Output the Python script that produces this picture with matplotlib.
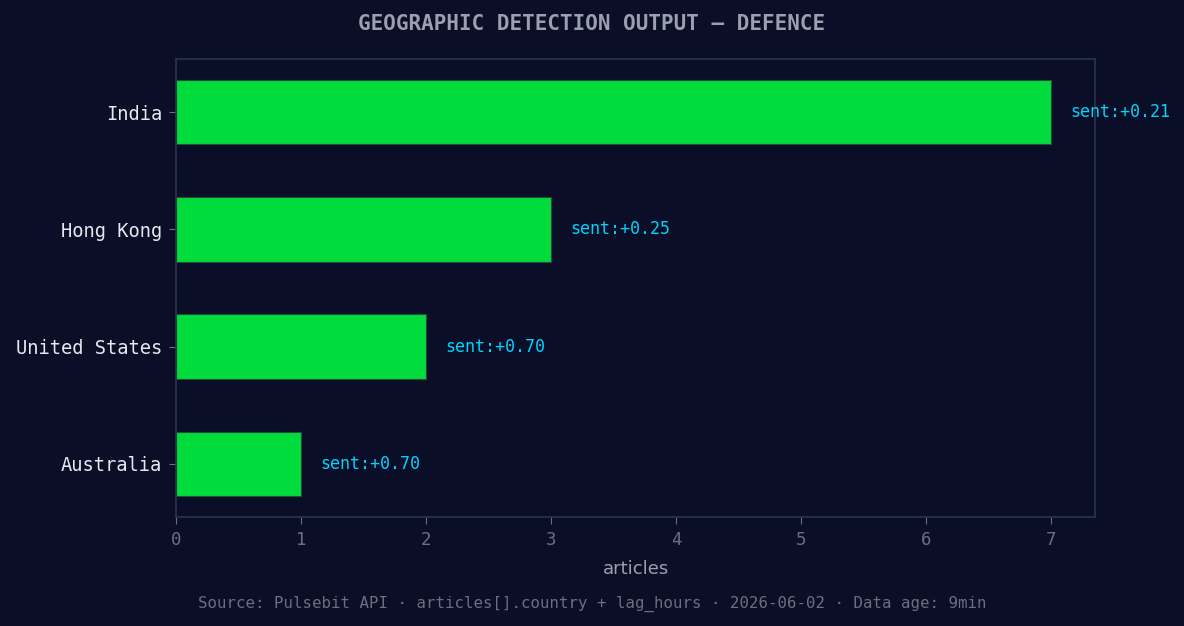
import matplotlib
matplotlib.use("Agg")
import matplotlib.pyplot as plt

countries = ["India", "Hong Kong", "United States", "Australia"]
articles = [7, 3, 2, 1]
sentiment = [0.21, 0.25, 0.70, 0.70]

BG = "#0a0e27"
BAR = "#00dc3c"
SPINE = "#2c3150"
TITLE = "#9aa0b0"
CYAN = "#00d4ff"
MONO = "DejaVu Sans Mono"

fig, ax = plt.subplots(figsize=(11.84, 6.26), dpi=100)
fig.patch.set_facecolor(BG)
ax.set_facecolor(BG)

ypos = list(range(len(countries)))[::-1]
ax.barh(ypos, articles, height=0.55, color=BAR, edgecolor="#2a4a3a", linewidth=0.8, zorder=2)

for y, a, s in zip(ypos, articles, sentiment):
    ax.text(a + 0.15, y, f"sent:{s:+.2f}", va="center", ha="left",
            color=CYAN, fontsize=12, family=MONO)

ax.set_yticks(ypos)
ax.set_yticklabels(countries, family=MONO, fontsize=13.5, color="#e6e8ee")
ax.set_xlim(0, 7.35)
ax.set_xticks(range(8))
for lbl in ax.get_xticklabels():
    lbl.set_family(MONO)
ax.tick_params(axis="x", colors="#6b7080", labelsize=12.5, length=5, pad=5)
ax.tick_params(axis="y", colors="#6b7080", length=5, pad=5)
ax.tick_params(axis="y", labelcolor="#e6e8ee")

for sp in ax.spines.values():
    sp.set_color(SPINE)
    sp.set_linewidth(1.2)

ax.set_xlabel("articles", color="#9aa0b0", fontsize=13, labelpad=8)
fig.suptitle("GEOGRAPHIC DETECTION OUTPUT — DEFENCE", family=MONO, fontweight="bold",
             color=TITLE, fontsize=15.05, y=0.978)
fig.text(0.5, 0.036, "Source: Pulsebit API · articles[].country + lag_hours · 2026-06-02 · Data age: 9min",
         ha="center", va="center", family=MONO, fontsize=11.3, color="#6b7080")

fig.subplots_adjust(left=0.1487, right=0.9248, top=0.9058, bottom=0.1741)
fig.savefig("out.png", dpi=100, facecolor=BG)
